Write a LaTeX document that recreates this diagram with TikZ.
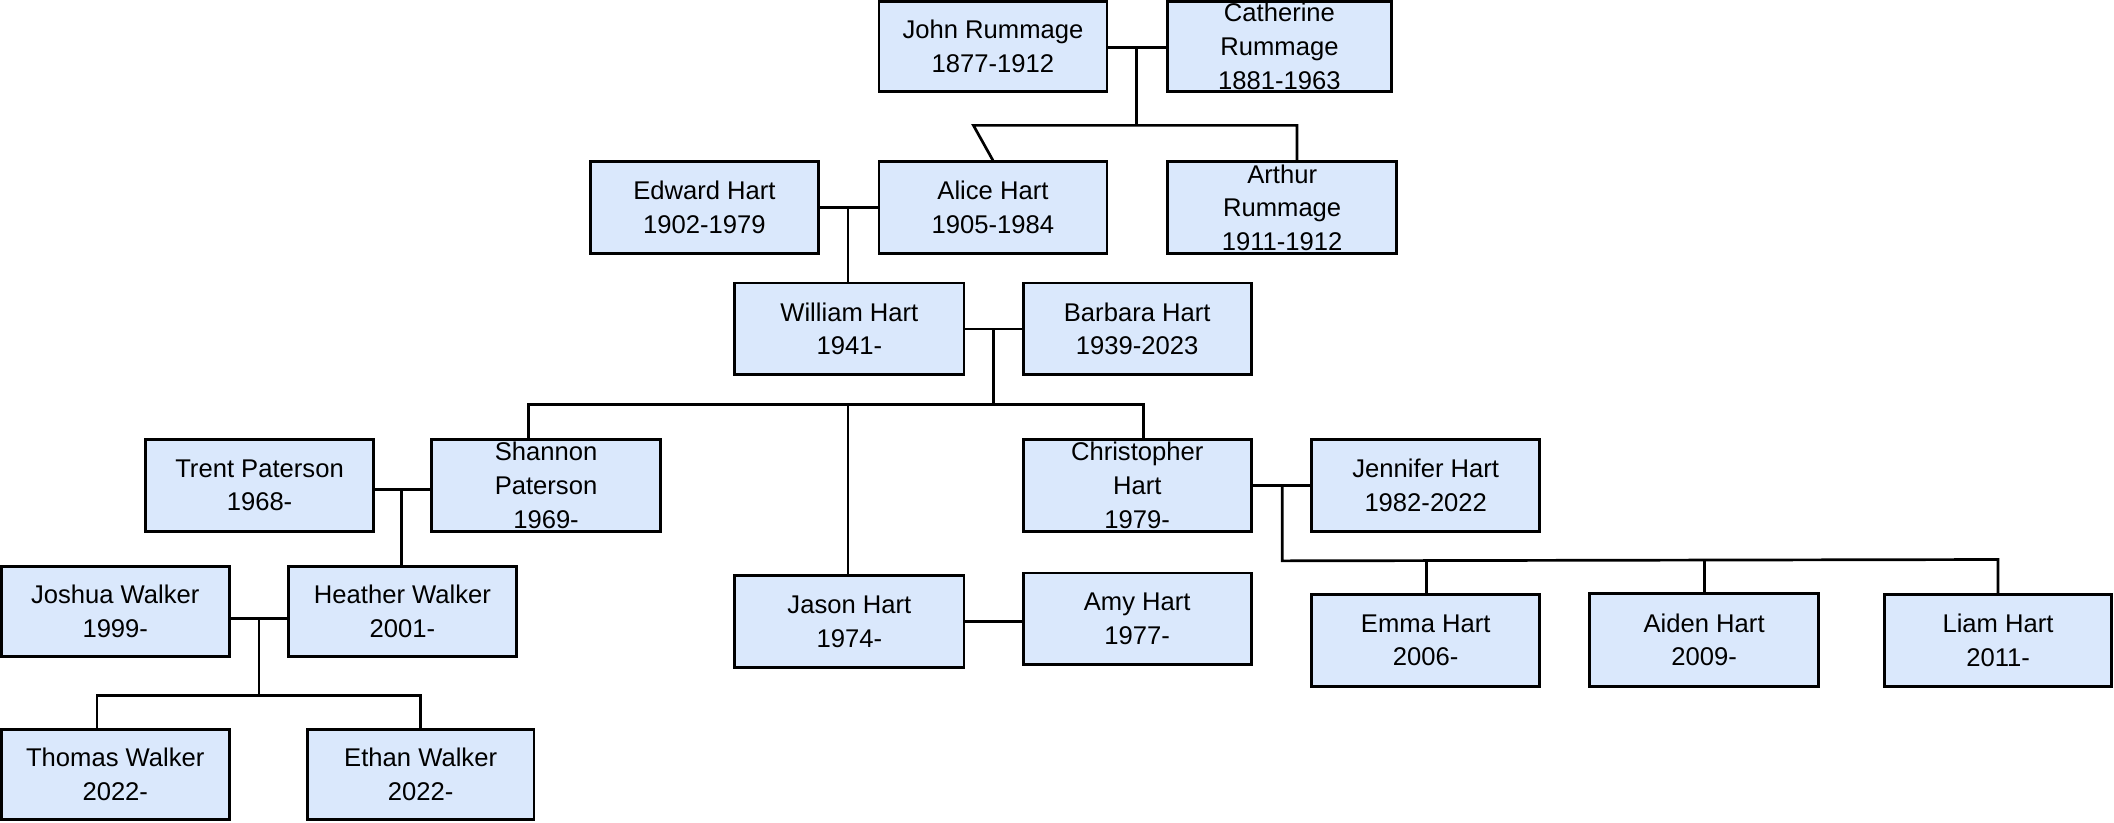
\documentclass[tikz,border=0pt]{standalone}
\usepackage{fontspec}
\setmainfont{Liberation Sans}
\definecolor{boxfill}{HTML}{DAE8FC}
\begin{document}
\begin{tikzpicture}[x=1pt,y=-1pt,
  person/.style={draw=black,line width=2pt,fill=boxfill,inner sep=0pt,align=center,
    font=\fontsize{19}{25}\selectfont},
  link/.style={line width=2pt}]
\useasboundingbox (0,0) rectangle (1568,610);
\newcommand{\bx}[6]{\node[person,minimum width={#4-#2},minimum height={#5-#3}] (#1) at ({(#2+#4)/2},{(#3+#5)/2}) {#6};}
\bx{john}{652}{1}{821}{68}{John Rummage\\1877-1912}
\bx{cath}{866}{1}{1032}{68}{Catherine\\Rummage\\1881-1963}
\bx{edward}{438}{120}{607}{188}{Edward Hart\\1902-1979}
\bx{alice}{652}{120}{821}{188}{Alice Hart\\1905-1984}
\bx{arthur}{866}{120}{1036}{188}{Arthur\\Rummage\\1911-1912}
\bx{william}{545}{210}{715}{278}{William Hart\\1941-}
\bx{barbara}{759}{210}{928}{278}{Barbara Hart\\1939-2023}
\bx{trent}{108}{326}{277}{394}{Trent Paterson\\1968-}
\bx{shannon}{320}{326}{490}{394}{Shannon\\Paterson\\1969-}
\bx{chris}{759}{326}{928}{394}{Christopher\\Hart\\1979-}
\bx{jennifer}{973}{326}{1142}{394}{Jennifer Hart\\1982-2022}
\bx{joshua}{1}{420}{170}{487}{Joshua Walker\\1999-}
\bx{heather}{214}{420}{383}{487}{Heather Walker\\2001-}
\bx{jason}{545}{427}{715}{495}{Jason Hart\\1974-}
\bx{amy}{759}{425}{928}{493}{Amy Hart\\1977-}
\bx{emma}{973}{441}{1142}{509}{Emma Hart\\2006-}
\bx{aiden}{1179}{440}{1349}{509}{Aiden Hart\\2009-}
\bx{liam}{1398}{441}{1566}{509}{Liam Hart\\2011-}
\bx{thomas}{1}{541}{170}{608}{Thomas Walker\\2022-}
\bx{ethan}{228}{541}{396}{608}{Ethan Walker\\2022-}
% junctions
\coordinate (j1) at (843,35);
\coordinate (j2) at (629,154);
\coordinate (j3) at (737,244);
\coordinate (j4) at (298,363);
\coordinate (j5) at (951,360);
\coordinate (j6) at (192,459);
\draw[link] (john.east|-j1) -- (cath.west|-j1);
\draw[link] (j1) -- (843,93) coordinate (b1);
\draw[link] (alice.north) -- (722,93) -- (962,93) -- (arthur.north-|962,0);
\draw[link] (edward.east|-j2) -- (alice.west|-j2);
\draw[link] (j2) -- (william.north-|j2);
\draw[link] (william.east|-j3) -- (barbara.west|-j3);
\draw[link] (j3) -- (737,300);
\draw[link] (shannon.north-|392,0) -- (392,300) -- (848,300) -- (chris.north-|848,0);
\draw[link] (629,300) -- (jason.north-|629,0);
\draw[link] (trent.east|-j4) -- (shannon.west|-j4);
\draw[link] (j4) -- (heather.north-|j4);
\draw[link] (joshua.east|-j6) -- (heather.west|-j6);
\draw[link] (j6) -- (192,516);
\draw[link] (thomas.north-|72,0) -- (72,516) -- (312,516) -- (ethan.north-|312,0);
\draw[link] (jason.east|-0,461) -- (amy.west|-0,461);
\draw[link] (chris.east|-j5) -- (jennifer.west|-j5);
\draw[link] (j5) -- (951,416) -- (1482,415) -- (liam.north-|1482,0);
\draw[link] (1058,416) -- (emma.north-|1058,0);
\draw[link] (1264,415) -- (aiden.north-|1264,0);
\end{tikzpicture}
\end{document}
